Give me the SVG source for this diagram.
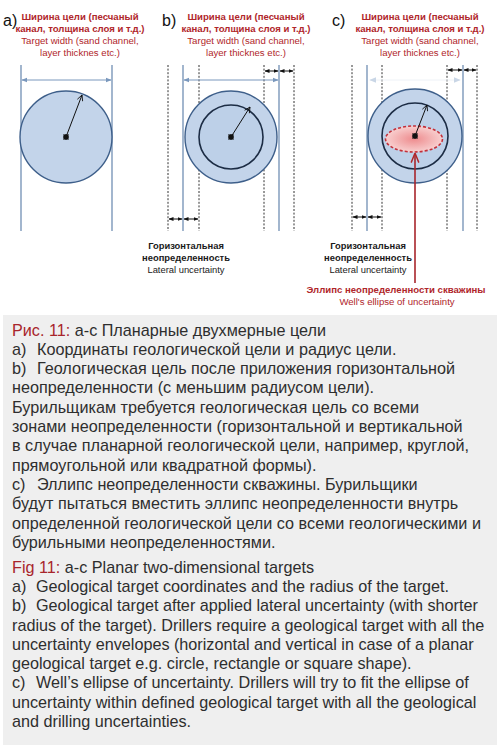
<svg xmlns="http://www.w3.org/2000/svg" width="500" height="747" viewBox="0 0 500 747">
<defs>
<marker id="ab" viewBox="0 0 10 10" refX="9" refY="5" markerWidth="6" markerHeight="6" orient="auto-start-reverse"><path d="M0,1 L10,5 L0,9 z" fill="#7a98bd"/></marker>
<marker id="af" viewBox="0 0 10 10" refX="9" refY="5" markerWidth="7" markerHeight="7" orient="auto-start-reverse"><path d="M0,1 L10,5 L0,9 z" fill="#c9d6e6"/></marker>
<marker id="ak" viewBox="0 0 10 10" refX="9" refY="5" markerWidth="5" markerHeight="5" orient="auto-start-reverse"><path d="M0,1 L10,5 L0,9 z" fill="#111"/></marker>
<marker id="ar" viewBox="0 0 10 10" refX="9" refY="5" markerWidth="6" markerHeight="6" orient="auto"><path d="M0,1 L10,5 L0,9" fill="none" stroke="#b0262b" stroke-width="1.5"/></marker>
<marker id="ao" viewBox="0 0 10 10" refX="9" refY="5" markerWidth="7" markerHeight="7" orient="auto"><path d="M1,1 L9,5 L1,9" fill="none" stroke="#111" stroke-width="1.2"/></marker>
<radialGradient id="eg" cx="0.5" cy="0.5" r="0.5">
<stop offset="0" stop-color="#ee8c8e"/><stop offset="1" stop-color="#f8cfcf"/>
</radialGradient>
</defs>
<style>
.lbl{font-family:"Liberation Sans",Arial,sans-serif;font-size:16px;fill:#111}
.rt{font-family:"Liberation Sans",Arial,sans-serif;font-size:9.6px;fill:#b0262b;text-anchor:middle}
.rb{font-weight:bold}
.kt{font-family:"Liberation Sans",Arial,sans-serif;font-size:9.4px;fill:#1a1a1a;text-anchor:middle}
.sol{stroke:#6585ad;stroke-width:1.2;fill:none}
.dsh{stroke:#333;stroke-width:1;stroke-dasharray:2 1.6;fill:none}
.outc{fill:#c3d4ea;stroke:#3e5f8a;stroke-width:1.4}
.inc{fill:#bdd0e8;stroke:#1c2c44;stroke-width:1.6}
.barrow{stroke:#7a98bd;stroke-width:1;marker-start:url(#ab);marker-end:url(#ab)}
.dim{stroke:#111;stroke-width:1;marker-start:url(#ak);marker-end:url(#ak)}
.rad{stroke:#111;stroke-width:1;marker-end:url(#ao)}
.ctr{stroke:#111;stroke-width:1.6}
.cap{font-family:"Liberation Sans",Arial,sans-serif;font-size:16.2px;fill:#2e2e2e}
.red{fill:#a8252b}
</style>
<rect width="500" height="747" fill="#fff"/>

<g id="panel-a">
<text class="lbl" x="3" y="26">a)</text>
<text class="rt"><tspan class="rb" x="80" y="20">Ширина цели (песчаный</tspan><tspan class="rb" x="80" y="32">канал, толщина слоя и т.д.)</tspan><tspan x="80" y="44">Target width (sand channel,</tspan><tspan x="80" y="56">layer thicknes etc.)</tspan></text>
<line class="sol" x1="21" y1="65" x2="21" y2="231"/>
<line class="sol" x1="112" y1="65" x2="112" y2="231"/>
<line class="barrow" x1="22" y1="80" x2="111" y2="80"/>
<circle class="outc" cx="66" cy="137" r="46"/>
<line class="rad" x1="66" y1="137" x2="82" y2="95"/>
<path class="ctr" d="M63.5,134.5 L68.5,139.5 M68.5,134.5 L63.5,139.5 M66,134 V140 M63,137 H69"/>
</g>

<g id="panel-b">
<text class="lbl" x="162" y="26">b)</text>
<text class="rt"><tspan class="rb" x="246" y="20">Ширина цели (песчаный</tspan><tspan class="rb" x="246" y="32">канал, толщина слоя и т.д.)</tspan><tspan x="246" y="44">Target width (sand channel,</tspan><tspan x="246" y="56">layer thicknes etc.)</tspan></text>
<line class="dsh" x1="168" y1="65" x2="168" y2="231"/>
<line class="dsh" x1="199" y1="65" x2="199" y2="231"/>
<line class="dsh" x1="264" y1="65" x2="264" y2="231"/>
<line class="dsh" x1="294" y1="65" x2="294" y2="231"/>
<line class="sol" x1="183" y1="65" x2="183" y2="231"/>
<line class="sol" x1="279" y1="65" x2="279" y2="231"/>
<line class="barrow" x1="184" y1="80" x2="278" y2="80"/>
<circle class="outc" cx="231" cy="137" r="46"/>
<circle class="inc" cx="231" cy="137" r="32"/>
<line class="rad" x1="231" y1="137" x2="250" y2="107"/>
<path class="ctr" d="M228.5,134.5 L233.5,139.5 M233.5,134.5 L228.5,139.5 M231,134 V140 M228,137 H234"/>
<line class="dim" x1="265" y1="71" x2="278" y2="71"/>
<line class="dim" x1="280" y1="71" x2="293" y2="71"/>
<line class="dim" x1="169" y1="219" x2="182" y2="219"/>
<line class="dim" x1="184" y1="219" x2="198" y2="219"/>
<text class="kt"><tspan class="rb" x="186" y="249">Горизонтальная</tspan><tspan class="rb" x="186" y="261">неопределенность</tspan><tspan x="186" y="273">Lateral uncertainty</tspan></text>
</g>

<g id="panel-c">
<text class="lbl" x="332" y="26">c)</text>
<text class="rt"><tspan class="rb" x="420" y="20">Ширина цели (песчаный</tspan><tspan class="rb" x="420" y="32">канал, толщина слоя и т.д.)</tspan><tspan x="420" y="44">Target width (sand channel,</tspan><tspan x="420" y="56">layer thicknes etc.)</tspan></text>
<line class="dsh" x1="352" y1="65" x2="352" y2="231"/>
<line class="dsh" x1="382" y1="65" x2="382" y2="231"/>
<line class="dsh" x1="447" y1="65" x2="447" y2="231"/>
<line class="dsh" x1="477" y1="65" x2="477" y2="231"/>
<line class="sol" x1="367" y1="65" x2="367" y2="231"/>
<line class="sol" x1="463" y1="65" x2="463" y2="231"/>
<line x1="370" y1="80" x2="460" y2="80" stroke="#eef2f7" stroke-width="1" marker-start="url(#af)" marker-end="url(#af)"/>
<circle class="outc" cx="415" cy="136" r="47"/>
<circle class="inc" cx="415" cy="136" r="33"/>
<ellipse cx="414" cy="139" rx="28.5" ry="13" fill="url(#eg)" stroke="#c3303a" stroke-width="1.6" stroke-dasharray="3 2"/>
<line class="rad" x1="415" y1="136" x2="427" y2="105"/>
<path class="ctr" d="M412.5,133.5 L417.5,138.5 M417.5,133.5 L412.5,138.5 M415,133 V139 M412,136 H418"/>
<line class="dim" x1="448" y1="70" x2="462" y2="70"/>
<line class="dim" x1="464" y1="70" x2="476" y2="70"/>
<line class="dim" x1="353" y1="217" x2="366" y2="217"/>
<line class="dim" x1="368" y1="217" x2="381" y2="217"/>
<line x1="415" y1="283" x2="415" y2="154" stroke="#a8252b" stroke-width="1.6" marker-end="url(#ar)"/>
<text class="kt"><tspan class="rb" x="368" y="249">Горизонтальная</tspan><tspan class="rb" x="368" y="261">неопределенность</tspan><tspan x="368" y="273">Lateral uncertainty</tspan></text>
<text class="rt"><tspan class="rb" x="396" y="293">Эллипс неопределенности скважины</tspan><tspan x="397" y="305">Well's ellipse of uncertainty</tspan></text>
</g>

<g id="caption">
<rect x="3" y="315" width="494" height="430" fill="#efefef"/>
<text class="cap">
<tspan x="12" y="336"><tspan class="red">Рис. 11:</tspan> а-с Планарные двухмерные цели</tspan>
<tspan x="12" y="355">a)</tspan><tspan x="37" y="355">Координаты геологической цели и радиус цели.</tspan>
<tspan x="12" y="374">b)</tspan><tspan x="37" y="374">Геологическая цель после приложения горизонтальной</tspan>
<tspan x="12" y="393">неопределенности (с меньшим радиусом цели).</tspan>
<tspan x="12" y="413">Бурильщикам требуется геологическая цель со всеми</tspan>
<tspan x="12" y="432">зонами неопределенности (горизонтальной и вертикальной</tspan>
<tspan x="12" y="451">в случае планарной геологической цели, например, круглой,</tspan>
<tspan x="12" y="471">прямоугольной или квадратной формы).</tspan>
<tspan x="12" y="490">c)</tspan><tspan x="37" y="490">Эллипс неопределенности скважины. Бурильщики</tspan>
<tspan x="12" y="509">будут пытаться вместить эллипс неопределенности внутрь</tspan>
<tspan x="12" y="529">определенной геологической цели со всеми геологическими и</tspan>
<tspan x="12" y="548">бурильными неопределенностями.</tspan>
<tspan x="12" y="573"><tspan class="red">Fig 11:</tspan> a-c Planar two-dimensional targets</tspan>
<tspan x="12" y="592">a)</tspan><tspan x="36" y="592">Geological target coordinates and the radius of the target.</tspan>
<tspan x="12" y="611">b)</tspan><tspan x="36" y="611">Geological target after applied lateral uncertainty (with shorter</tspan>
<tspan x="12" y="631">radius of the target). Drillers require a geological target with all the</tspan>
<tspan x="12" y="650">uncertainty envelopes (horizontal and vertical in case of a planar</tspan>
<tspan x="12" y="669">geological target e.g. circle, rectangle or square shape).</tspan>
<tspan x="12" y="688">c)</tspan><tspan x="36" y="688">Well’s ellipse of uncertainty. Drillers will try to fit the ellipse of</tspan>
<tspan x="12" y="708">uncertainty within defined geological target with all the geological</tspan>
<tspan x="12" y="727">and drilling uncertainties.</tspan>
</text>
</g>
</svg>
